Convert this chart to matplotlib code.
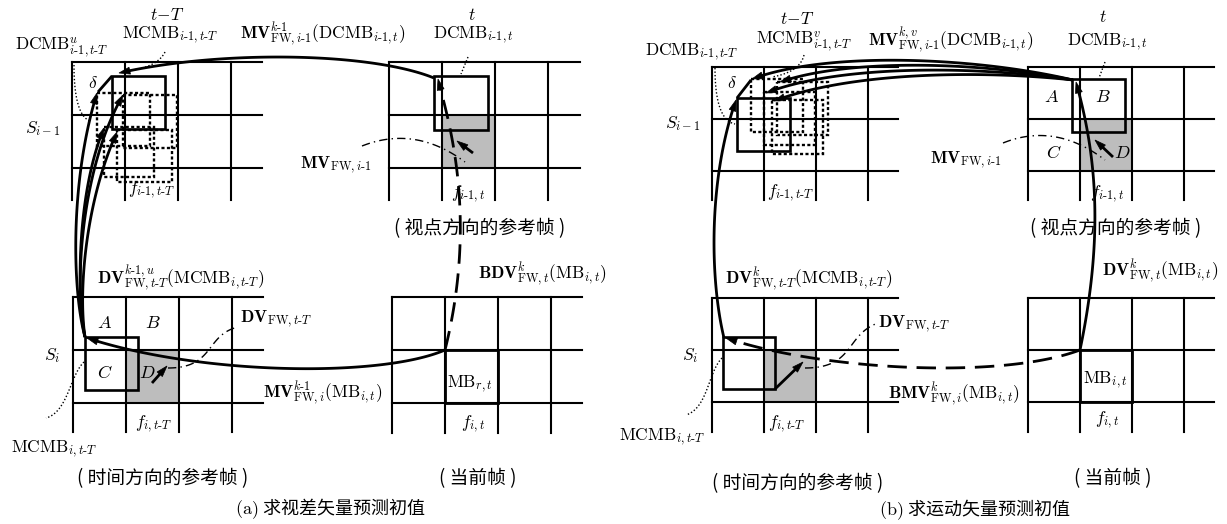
import math
import numpy as np
import matplotlib
matplotlib.use("Agg")
import matplotlib.pyplot as plt
from matplotlib.patches import Rectangle, Polygon

plt.rcParams['mathtext.fontset'] = 'cm'
plt.rcParams['font.family'] = ['Noto Sans CJK SC', 'DejaVu Sans']

W, H = 1227, 524

# ───────── geometry (pixel coords, y down)
# grid: x0, y0, cell, right end, bottom end
GRIDS = [
    (72, 62, 53, 262, 200),     # (a) t-T, S_{i-1}
    (389, 62, 53, 580, 200),    # (a) t,   S_{i-1}
    (73, 297, 53, 263, 432),    # (a) t-T, S_i
    (392, 297, 53, 582, 433),   # (a) t,   S_i
    (712, 67, 52, 898, 200),    # (b) t-T, S_{i-1}
    (1028, 67, 52, 1214, 200),  # (b) t,   S_{i-1}
    (712, 298, 52, 898, 432),   # (b) t-T, S_i
    (1028, 298, 52, 1214, 432), # (b) t,   S_i
]
GREY_GRIDS = [1, 2, 5, 6]
MB_GRIDS = [3, 7]
SOLID_BOXES = [(112, 76, 53), (434, 76, 54), (85, 337, 53),
               (737, 98, 53), (1072, 79, 53), (723, 337, 52)]
DOTTED_BOXES = [(97, 93, 53, 53), (123, 95, 54, 53), (104, 127, 50, 50), (117, 130, 55, 52),
                (751, 79, 52, 53), (777, 82, 51, 53), (764, 92, 51, 53), (772, 100, 51, 54)]

# curves: control points, style, arrow head
SOLID_ARROWS = [
    [(434, 78), (370, 52), (220, 50), (119, 73)],
    [(85, 337), (72, 290), (70, 180), (97, 93)],
    [(85, 337), (74, 290), (80, 170), (123, 95)],
    [(85, 337), (76, 290), (78, 190), (104, 128)],
    [(85, 337), (78, 290), (86, 200), (117, 132)],
    [(445, 350), (380, 378), (200, 375), (87, 338)],
    [(473, 153), (457, 141)],
    [(152, 383), (167, 366)],
    [(1073, 80), (980, 58), (830, 50), (752, 79)],
    [(1073, 80), (980, 62), (850, 58), (780, 82)],
    [(1073, 80), (980, 66), (840, 64), (766, 93)],
    [(1073, 80), (980, 70), (850, 72), (774, 101)],
    [(724, 338), (710, 280), (708, 180), (736, 100)],
    [(1080, 350), (1105, 230), (1095, 150), (1076, 82)],
    [(1113, 157), (1095, 140)],
    [(775, 389), (803, 362)],
]
DASHED_ARROWS = [
    [(445, 350), (480, 210), (445, 110), (438, 79)],
    [(1080, 350), (1000, 380), (820, 370), (726, 338)],
]
PLAIN_LINES = [[(112, 76), (98, 92)], [(737, 98), (751, 80)]]
DASHDOT_LINES = [
    [(362, 146), (415, 125), (465, 162)],
    [(168, 368), (215, 368), (205, 335), (238, 327)],
    [(1003, 143), (1055, 122), (1105, 160)],
    [(805, 368), (855, 368), (845, 335), (878, 323)],
]
DOTTED_LINES = [
    [(74, 65), (74, 115), (90, 121)],
    [(165, 52), (158, 66), (133, 70)],
    [(468, 57), (461, 74)],
    [(84, 362), (70, 375), (68, 412), (46, 418)],
    [(715, 68), (715, 120), (735, 124)],
    [(804, 55), (800, 72), (772, 77)],
    [(1105, 62), (1099, 78)],
    [(722, 358), (708, 372), (708, 408), (686, 415)],
]

# ───────── labels
h = r'\text{-}'
MATH_LABELS = [
    (167, 20, r'$t\!-\!T$', 'center'),
    (170, 38, r'$\mathrm{MCMB}_{i%s1,t%sT}$' % (h, h), 'center'),
    (62, 50, r'$\mathrm{DCMB}^{u}_{i%s1,t%sT}$' % (h, h), 'center'),
    (240, 38, r'$\mathbf{MV}^{k%s1}_{\mathrm{FW},i%s1}(\mathrm{DCMB}_{i%s1,t})$' % (h, h, h), 'left'),
    (472, 20, r'$t$', 'center'),
    (473, 38, r'$\mathrm{DCMB}_{i%s1,t}$' % h, 'center'),
    (43, 133, r'$S_{i-1}$', 'center'),
    (93, 88, r'$\delta$', 'center'),
    (152, 193, r'$f_{i%s1,t%sT}$' % (h, h), 'center'),
    (468, 197, r'$f_{i%s1,t}$' % h, 'center'),
    (336, 168, r'$\mathbf{MV}_{\mathrm{FW},i%s1}$' % h, 'center'),
    (97, 283, r'$\mathbf{DV}^{k%s1,u}_{\mathrm{FW},t%sT}(\mathrm{MCMB}_{i,t%sT})$' % (h, h, h), 'left'),
    (478, 278, r'$\mathbf{BDV}^{k}_{\mathrm{FW},t}(\mathrm{MB}_{i,t})$', 'left'),
    (240, 322, r'$\mathbf{DV}_{\mathrm{FW},t%sT}$' % h, 'left'),
    (52, 360, r'$S_i$', 'center'),
    (154, 427, r'$f_{i,t%sT}$' % h, 'center'),
    (263, 397, r'$\mathbf{MV}^{k%s1}_{\mathrm{FW},i}(\mathrm{MB}_{i,t})$' % h, 'left'),
    (470, 387, r'$\mathrm{MB}_{r,t}$', 'center'),
    (473, 427, r'$f_{i,t}$', 'center'),
    (54, 452, r'$\mathrm{MCMB}_{i,t%sT}$' % h, 'center'),
    (797, 24, r'$t\!-\!T$', 'center'),
    (804, 44, r'$\mathrm{MCMB}^{v}_{i%s1,t%sT}$' % (h, h), 'center'),
    (692, 55, r'$\mathrm{DCMB}_{i%s1,t%sT}$' % (h, h), 'center'),
    (868, 45, r'$\mathbf{MV}^{k,v}_{\mathrm{FW},i%s1}(\mathrm{DCMB}_{i%s1,t})$' % (h, h), 'left'),
    (1103, 22, r'$t$', 'center'),
    (1107, 45, r'$\mathrm{DCMB}_{i%s1,t}$' % h, 'center'),
    (683, 128, r'$S_{i-1}$', 'center'),
    (732, 88, r'$\delta$', 'center'),
    (791, 196, r'$f_{i%s1,t%sT}$' % (h, h), 'center'),
    (966, 163, r'$\mathbf{MV}_{\mathrm{FW},i%s1}$' % h, 'center'),
    (1107, 197, r'$f_{i%s1,t}$' % h, 'center'),
    (725, 283, r'$\mathbf{DV}^{k}_{\mathrm{FW},t%sT}(\mathrm{MCMB}_{i,t%sT})$' % (h, h), 'left'),
    (1102, 275, r'$\mathbf{DV}^{k}_{\mathrm{FW},t}(\mathrm{MB}_{i,t})$', 'left'),
    (878, 327, r'$\mathbf{DV}_{\mathrm{FW},t%sT}$' % h, 'left'),
    (690, 360, r'$S_i$', 'center'),
    (888, 398, r'$\mathbf{BMV}^{k}_{\mathrm{FW},i}(\mathrm{MB}_{i,t})$', 'left'),
    (662, 440, r'$\mathrm{MCMB}_{i,t%sT}$' % h, 'center'),
    (1105, 383, r'$\mathrm{MB}_{i,t}$', 'center'),
    (1107, 423, r'$f_{i,t}$', 'center'),
    (787, 427, r'$f_{i,t%sT}$' % h, 'center'),
]
LETTERS = [(105, 323, 'A'), (153, 323, 'B'), (105, 373, 'C'), (147, 373, 'D'),
           (1052, 97, 'A'), (1103, 97, 'B'), (1054, 153, 'C'), (1122, 153, 'D')]
CJK_LABELS = [
    (480, 229, '( 视点方向的参考帧 )', 13.5),
    (163, 479, '( 时间方向的参考帧 )', 13.5),
    (478, 479, '( 当前帧 )', 13.5),
    (330, 509, r'$(\mathrm{a})$ 求视差矢量预测初值', 13),
    (1116, 229, '( 视点方向的参考帧 )', 13.5),
    (798, 484, '( 时间方向的参考帧 )', 13.5),
    (1113, 479, '( 当前帧 )', 13.5),
    (975, 510, r'$(\mathrm{b})$ 求运动矢量预测初值', 13),
]


def bezier(ctrl, n=120):
    ctrl = np.asarray(ctrl, float)
    if len(ctrl) == 2:
        t = np.linspace(0, 1, n)[:, None]
        return ctrl[0] * (1 - t) + ctrl[1] * t
    deg = len(ctrl) - 1
    t = np.linspace(0, 1, n)
    pts = np.zeros((n, 2))
    for k, p in enumerate(ctrl):
        pts += (math.comb(deg, k) * (1 - t) ** (deg - k) * t ** k)[:, None] * p
    return pts


def draw_curve(ax, ctrl, lw=2.0, ls='-', head=True, hl=11, hw=7):
    pts = bezier(ctrl)
    if head:
        seg = np.hypot(*np.diff(pts, axis=0).T)
        s = np.concatenate([[0], np.cumsum(seg)])
        keep = s <= s[-1] - hl * 0.6
        tip = pts[-1]
        back = pts[np.searchsorted(s, s[-1] - hl)]
        d = (tip - back) / np.linalg.norm(tip - back)
        nrm = np.array([-d[1], d[0]])
        base = tip - d * hl
        ax.add_patch(Polygon([tip, base + nrm * hw / 2, base - nrm * hw / 2],
                             closed=True, fc='black', ec='black', lw=0.5, zorder=6))
        pts = pts[keep]
    ax.plot(pts[:, 0], pts[:, 1], color='black', lw=lw, ls=ls,
            solid_capstyle='butt', dash_capstyle='butt', zorder=5)


fig = plt.figure(figsize=(W / 100, H / 100), dpi=100)
ax = fig.add_axes([0, 0, 1, 1])
ax.set_xlim(0, W)
ax.set_ylim(H, 0)
ax.axis('off')

# grey cells first
for gi in GREY_GRIDS:
    x0, y0, c, _, _ = GRIDS[gi]
    ax.add_patch(Rectangle((x0 + c, y0 + c), c, c, fc='#bdbdbd', ec='none', zorder=1))

for x0, y0, c, xr, yb in GRIDS:
    for k in range(4):
        ax.plot([x0 + k * c] * 2, [y0, yb], color='black', lw=1.5, zorder=2)
    for k in range(3):
        ax.plot([x0, xr], [y0 + k * c] * 2, color='black', lw=1.5, zorder=2)

for gi in MB_GRIDS:
    x0, y0, c, _, _ = GRIDS[gi]
    ax.add_patch(Rectangle((x0 + c, y0 + c), c, c, fc='none', ec='black', lw=2.0, zorder=3))

for x, y, s in SOLID_BOXES:
    ax.add_patch(Rectangle((x, y), s, s, fc='none', ec='black', lw=1.9, zorder=4))
for x, y, w, hh in DOTTED_BOXES:
    ax.add_patch(Rectangle((x, y), w, hh, fc='none', ec='black', lw=1.7,
                           ls=(0, (1.3, 1.0)), zorder=4))

for c in SOLID_ARROWS:
    draw_curve(ax, c)
for c in DASHED_ARROWS:
    draw_curve(ax, c, ls=(0, (7, 3.5)))
for c in PLAIN_LINES:
    draw_curve(ax, c, head=False)
for c in DASHDOT_LINES:
    draw_curve(ax, c, lw=1.0, ls=(0, (6, 3, 1, 3)), head=False)
for c in DOTTED_LINES:
    draw_curve(ax, c, lw=1.0, ls=(0, (1, 1.5)), head=False)

for x, y, s, ha in MATH_LABELS:
    ax.text(x, y, s, ha=ha, va='baseline', fontsize=12.5, zorder=7)
for x, y, s in LETTERS:
    ax.text(x, y, '$%s$' % s, ha='center', va='center', fontsize=13, zorder=7)
for x, y, s, fs in CJK_LABELS:
    ax.text(x, y, s, ha='center', va='center', fontsize=fs, weight='light', zorder=7)

fig.savefig('out.png', dpi=100)
